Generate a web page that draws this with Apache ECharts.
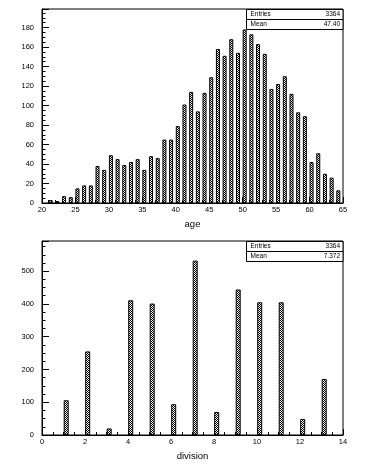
<!DOCTYPE html>
<html>
<head>
<meta charset="utf-8">
<script src="https://cdn.jsdelivr.net/npm/echarts@6/dist/echarts.min.js"></script>
<style>
html,body{margin:0;padding:0;background:#fff;}
#c{width:387px;height:465px;}
</style>
</head>
<body>
<div id="c"></div>
<script>
// ---- data ----
const ageBins = [21,22,23,24,25,26,27,28,29,30,31,32,33,34,35,36,37,38,39,40,41,42,43,44,45,46,47,48,49,50,51,52,53,54,55,56,57,58,59,60,61,62,63,64];
const ageCounts = [3,2,7,6,15,18,18,38,34,49,45,39,42,45,34,48,46,65,65,79,101,114,94,113,129,158,151,168,154,178,173,163,153,117,122,130,112,93,89,42,51,30,26,13];
const divisionBins = [1,2,3,4,5,6,7,8,9,10,11,12,13];
const divisionCounts = [106,255,20,411,401,94,532,70,444,405,405,49,171];
const statLabels = ['Entries','Mean'];
const ageStats = ['3364','47.40'];
const divisionStats = ['3364','7.372'];
const ageTitle = 'age';
const divisionTitle = 'division';

// ---- pattern fill ----
function makePattern(){
  const cv = document.createElement('canvas');
  cv.width = 2; cv.height = 2;
  const ctx = cv.getContext('2d');
  ctx.fillStyle = '#fff'; ctx.fillRect(0,0,2,2);
  ctx.fillStyle = '#000'; ctx.fillRect(0,0,1,1); ctx.fillRect(1,1,1,1);
  return cv;
}
const pat = {image: makePattern(), repeat: 'repeat'};

const FONT = 'Liberation Sans';
const labelStyle = {color:'#000', fontFamily: FONT, fontSize: 7.5};

function xAxisCfg(min,max,interval,minorSplit,name){
  return {
    type:'value', min:min, max:max, interval:interval,
    name:name, nameLocation:'middle', nameGap:16,
    nameTextStyle:{color:'#000', fontFamily:FONT, fontSize:9.5},
    axisLine:{show:true, onZero:false, lineStyle:{color:'#000', width:1}},
    axisTick:{show:true, inside:true, length:6, lineStyle:{color:'#000'}},
    minorTick:{show:true, splitNumber:minorSplit, length:3, lineStyle:{color:'#000'}},
    splitLine:{show:false}, minorSplitLine:{show:false},
    axisLabel:Object.assign({margin:3, showMinLabel:true, showMaxLabel:true}, labelStyle)
  };
}
function yAxisCfg(max,interval,minorSplit){
  return {
    type:'value', min:0, max:max, interval:interval,
    axisLine:{show:true, lineStyle:{color:'#000', width:1}},
    axisTick:{show:true, inside:true, length:7, lineStyle:{color:'#000'}},
    minorTick:{show:true, splitNumber:minorSplit, length:3.5, lineStyle:{color:'#000'}},
    splitLine:{show:false}, minorSplitLine:{show:false},
    axisLabel:Object.assign({margin:8, showMaxLabel:false}, labelStyle)
  };
}

const ageData = ageBins.map((b,i)=>[b+0.3, ageCounts[i]]);
const divData = divisionBins.map((b,i)=>[b+0.125, divisionCounts[i]]);

function statBox(x, y, w, h, vals){
  const els = [];
  els.push({type:'rect', shape:{x:x, y:y, width:w, height:h}, style:{fill:'#fff', stroke:'#000', lineWidth:1}, z:100});
  els.push({type:'line', shape:{x1:x, y1:y+h/2, x2:x+w, y2:y+h/2}, style:{stroke:'#000', lineWidth:1}, z:101});
  statLabels.forEach((lab,i)=>{
    const cy = y + h/4 + i*h/2;
    els.push({type:'text', x:x+4, y:cy, style:{text:lab, fill:'#000', font:'6.5px "'+FONT+'"', textAlign:'left', textVerticalAlign:'middle'}, z:102});
    els.push({type:'text', x:x+w-3, y:cy, style:{text:vals[i], fill:'#000', font:'6.5px "'+FONT+'"', textAlign:'right', textVerticalAlign:'middle'}, z:102});
  });
  return els;
}

const chart = echarts.init(document.getElementById('c'), null, {renderer:'canvas'});
chart.setOption({
  backgroundColor:'#fff',
  animation:false,
  grid:[
    {left:42, top:9, width:301, height:194, show:true, borderColor:'#000', borderWidth:1, backgroundColor:'transparent'},
    {left:42, top:241, width:301, height:194, show:true, borderColor:'#000', borderWidth:1, backgroundColor:'transparent'}
  ],
  xAxis:[
    Object.assign(xAxisCfg(20,65,5,5,ageTitle), {gridIndex:0}),
    Object.assign(xAxisCfg(0,14,2,4,divisionTitle), {gridIndex:1})
  ],
  yAxis:[
    Object.assign(yAxisCfg(199,20,4), {gridIndex:0}),
    Object.assign(yAxisCfg(592,100,4), {gridIndex:1})
  ],
  series:[
    {type:'bar', xAxisIndex:0, yAxisIndex:0, data:ageData, barWidth:4,
     itemStyle:{color:pat, borderColor:'#000', borderWidth:1}},
    {type:'bar', xAxisIndex:1, yAxisIndex:1, data:divData, barWidth:5,
     itemStyle:{color:pat, borderColor:'#000', borderWidth:1}}
  ],
  graphic: statBox(246.5, 9.5, 96.5, 20, ageStats).concat(statBox(246.5, 241.5, 96.5, 20, divisionStats))
});
</script>
</body>
</html>
